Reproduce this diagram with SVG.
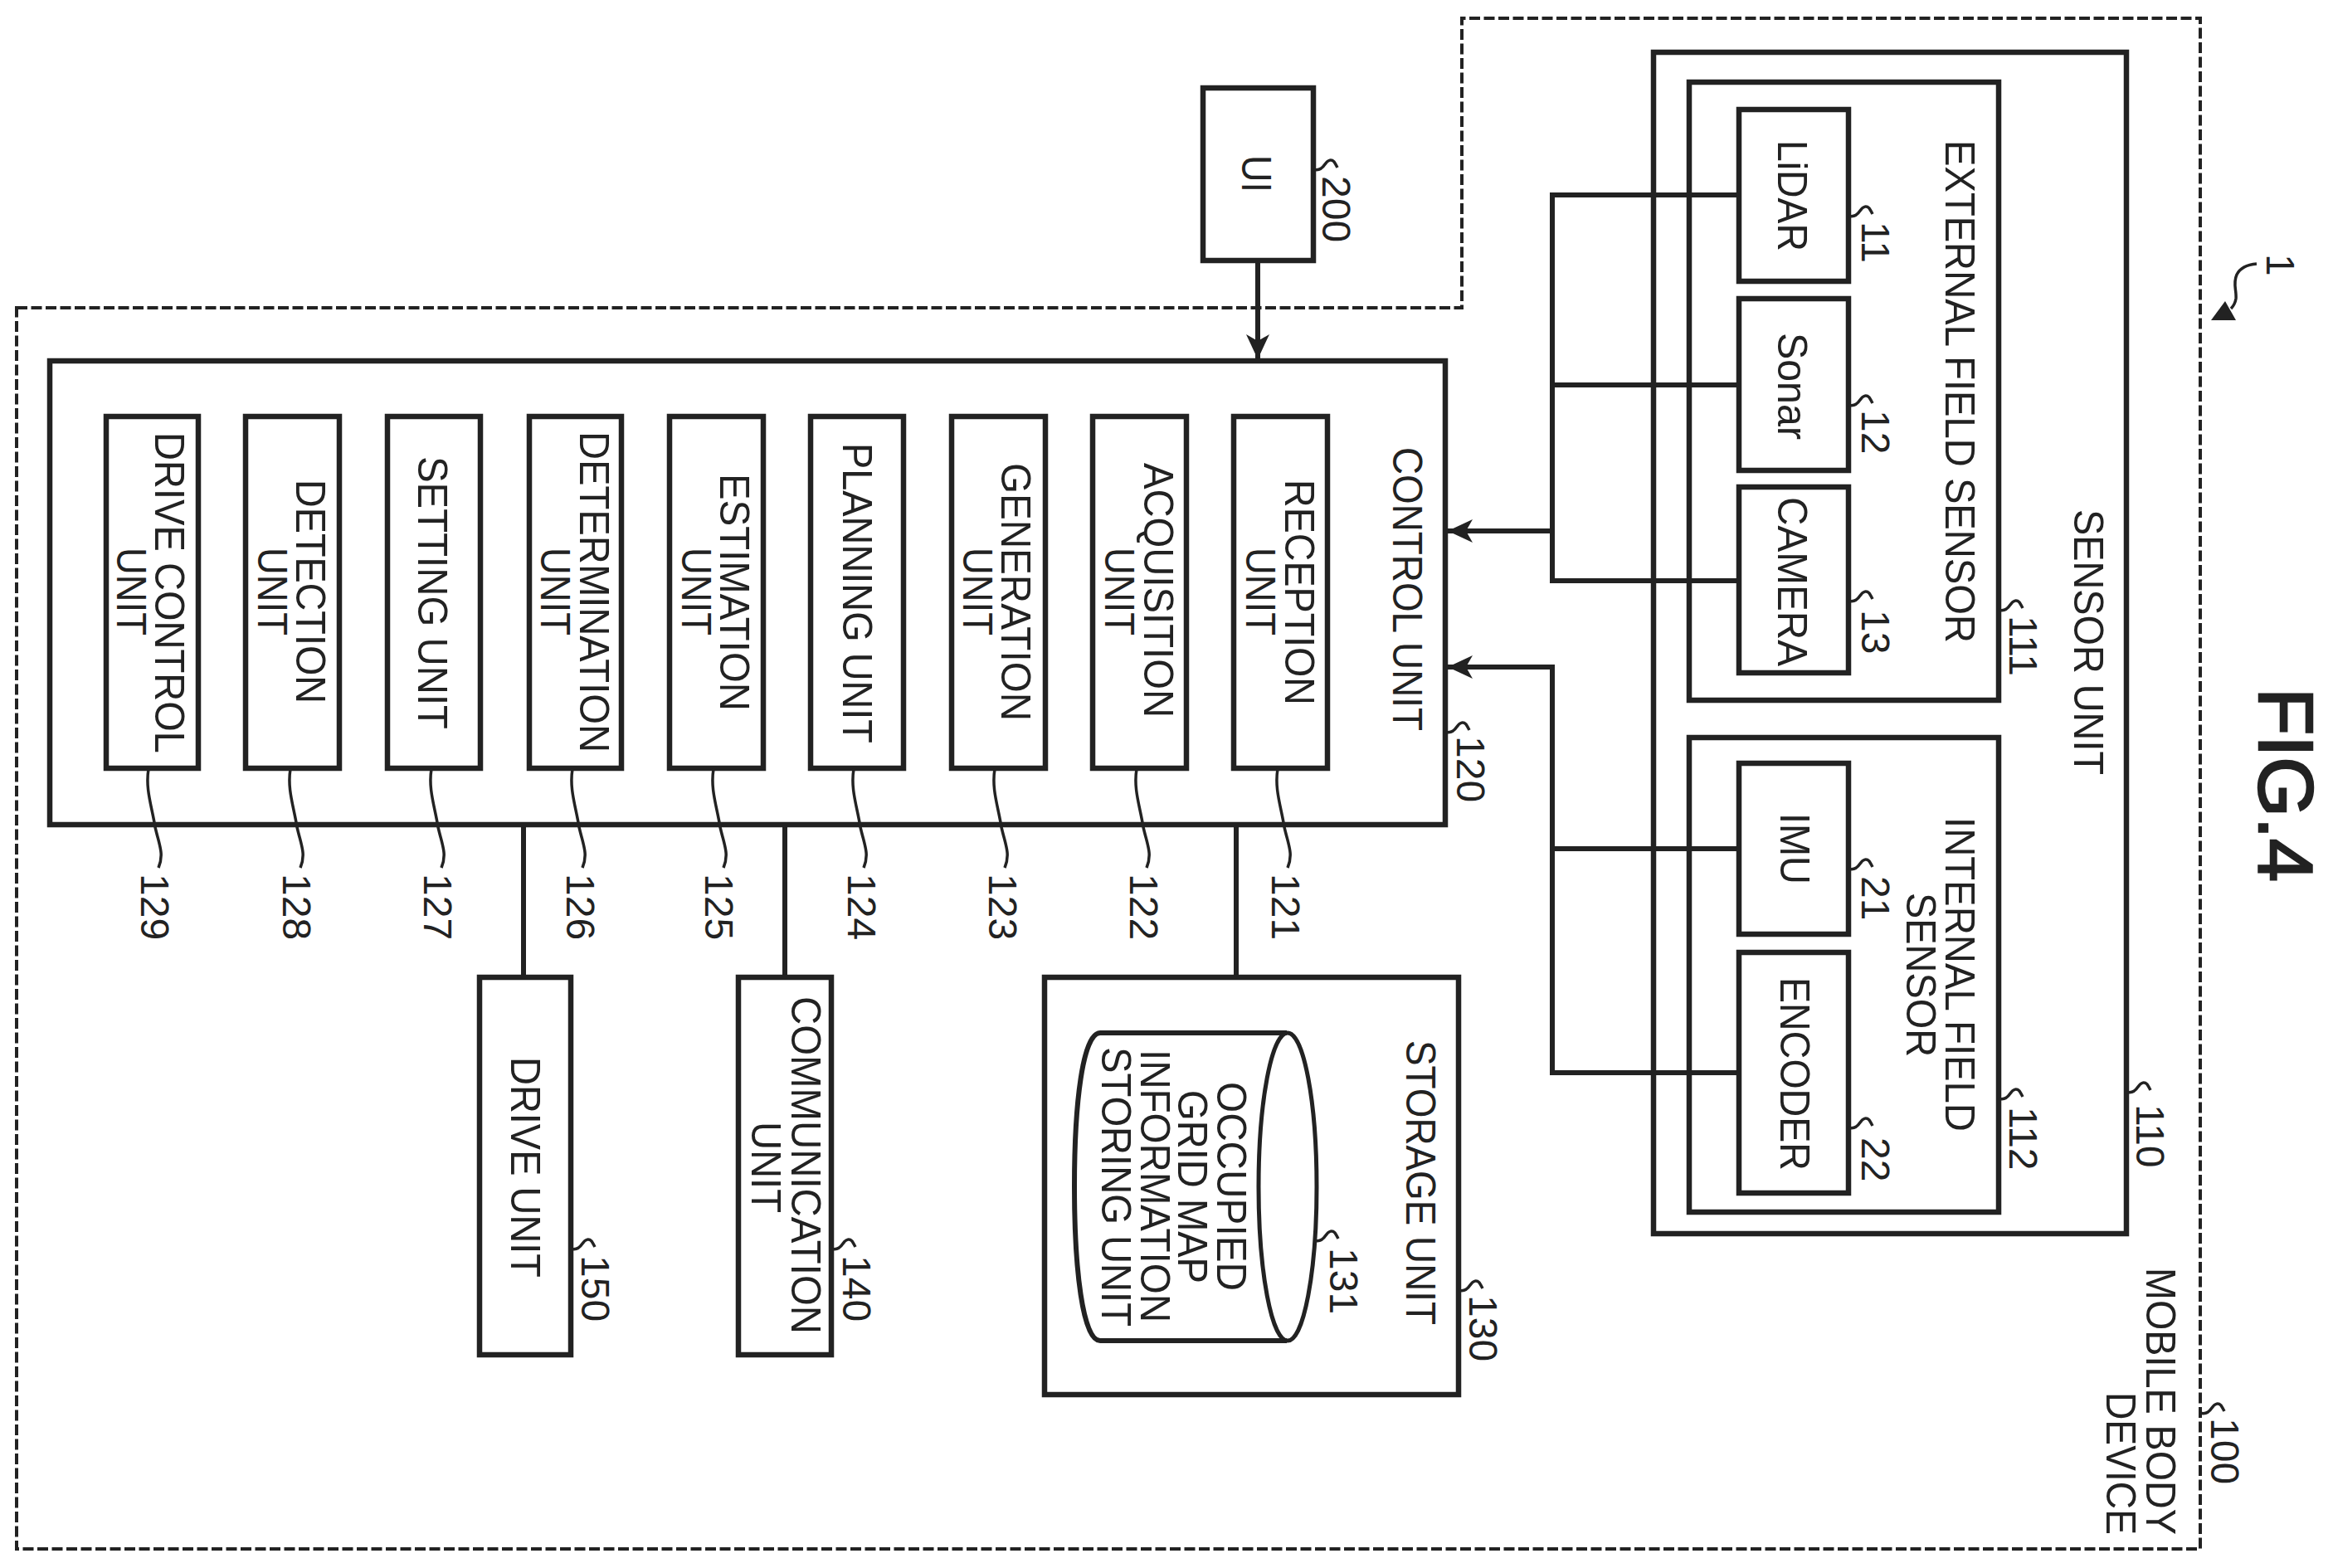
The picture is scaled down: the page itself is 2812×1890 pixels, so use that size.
<svg xmlns="http://www.w3.org/2000/svg" width="2812" height="1890" viewBox="0 0 2812 1890">
<style>
text{font-family:"Liberation Sans",Arial,sans-serif;font-size:50px;fill:#222}
.n{font-size:48px}
.fig{font-size:92px;stroke:#222;stroke-width:2.5}
.b{fill:none;stroke:#222;stroke-width:6.5}
.c{fill:none;stroke:#222;stroke-width:6}
.thin{fill:none;stroke:#222;stroke-width:3.5}
.dash{fill:none;stroke:#222;stroke-width:4;stroke-dasharray:13 4.5}
</style>
<defs>
<marker id="ah" markerUnits="userSpaceOnUse" viewBox="0 0 30 30" refX="30" refY="15" markerWidth="30" markerHeight="30" orient="auto"><path d="M0,1 L30,15 L0,29 L8,15 Z" fill="#222"/></marker>
<path id="lead" class="thin" d="M0,0 C-4,24 4,45 8,70 C13,92 19,102 12,119"/>
<path id="sq" class="thin" d="M0,11 C6,13 10,11 14,5 C18,-1 22,-1 25,2 C27,5 28,7 29,9"/>
</defs>
<rect width="2812" height="1890" fill="#fff"/>
<g id="connectors">
<path class="c" marker-end="url(#ah)" d="M1516,314 V433"/>
<path class="c" d="M2096,235 H1871 V700 H2096 M1871,464 H2096"/>
<path class="c" marker-end="url(#ah)" d="M1871,640 H1745"/>
<path class="c" marker-end="url(#ah)" d="M2096,1293 H1871 V804 H1745"/>
<path class="c" d="M1871,1023 H2096"/>
<path class="c" d="M1490,994 V1178 M946,994 V1178 M631,994 V1178"/>
<path class="thin" d="M2720,318 C2708,319 2700,323 2696,331 C2691,342 2696,350 2695,360 C2694,366 2692,369 2689,372"/>
<path d="M2665,386 L2682,363 L2695,386 Z" fill="#222"/>
</g>
<g id="mobile-body-device">
<path class="dash" d="M20,371 H1762 V22 H2652 V1867 H20 Z"/>
<text transform="translate(2587,1528) rotate(90)" textLength="322" lengthAdjust="spacingAndGlyphs">MOBILE BODY</text>
<text transform="translate(2539,1678) rotate(90)" textLength="172" lengthAdjust="spacingAndGlyphs">DEVICE</text>
<use href="#sq" transform="translate(2652,1692)"/>
<text class="n" transform="translate(2665,1709) rotate(90)">100</text>
</g>
<g id="ref-1"><text class="n" transform="translate(2732,306) rotate(90)">1</text></g>
<g id="fig-label"><text class="fig" transform="translate(2723,829) rotate(90)" textLength="234" lengthAdjust="spacingAndGlyphs">FIG.4</text></g>
<g id="ui">
<rect class="b" x="1450" y="106" width="133" height="208"/>
<text transform="translate(1497,187) rotate(90)" textLength="45" lengthAdjust="spacingAndGlyphs">UI</text>
<use href="#sq" transform="translate(1583,193)"/>
<text class="n" transform="translate(1594,212) rotate(90)">200</text>
</g>
<g id="sensor-unit">
<rect class="b" x="1993" y="63" width="570" height="1424"/>
<text transform="translate(2500,614) rotate(90)" textLength="320" lengthAdjust="spacingAndGlyphs">SENSOR UNIT</text>
<use href="#sq" transform="translate(2563,1305)"/>
<text class="n" transform="translate(2575,1331) rotate(90)">110</text>
</g>
<g id="external-field-sensor">
<rect class="b" x="2036" y="99" width="373" height="745"/>
<text transform="translate(2345,169) rotate(90)" textLength="606" lengthAdjust="spacingAndGlyphs">EXTERNAL FIELD SENSOR</text>
<use href="#sq" transform="translate(2409,724)"/>
<text class="n" transform="translate(2422,742) rotate(90)">111</text>
</g>
<g id="lidar">
<rect class="b" x="2096" y="132" width="132" height="207"/>
<text transform="translate(2143,169) rotate(90)" textLength="134" lengthAdjust="spacingAndGlyphs">LiDAR</text>
<use href="#sq" transform="translate(2228,249)"/>
<text class="n" transform="translate(2244,267) rotate(90)">11</text>
</g>
<g id="sonar">
<rect class="b" x="2096" y="360" width="132" height="207"/>
<text transform="translate(2143,401) rotate(90)" textLength="129" lengthAdjust="spacingAndGlyphs">Sonar</text>
<use href="#sq" transform="translate(2228,477)"/>
<text class="n" transform="translate(2244,494) rotate(90)">12</text>
</g>
<g id="camera">
<rect class="b" x="2096" y="587" width="132" height="224"/>
<text transform="translate(2143,599) rotate(90)" textLength="204" lengthAdjust="spacingAndGlyphs">CAMERA</text>
<use href="#sq" transform="translate(2228,713)"/>
<text class="n" transform="translate(2244,735) rotate(90)">13</text>
</g>
<g id="internal-field-sensor">
<rect class="b" x="2036" y="889" width="373" height="572"/>
<text transform="translate(2345,985) rotate(90)" textLength="379" lengthAdjust="spacingAndGlyphs">INTERNAL FIELD</text>
<text transform="translate(2298,1076) rotate(90)" textLength="198" lengthAdjust="spacingAndGlyphs">SENSOR</text>
<use href="#sq" transform="translate(2409,1313)"/>
<text class="n" transform="translate(2422,1334) rotate(90)">112</text>
</g>
<g id="imu">
<rect class="b" x="2096" y="920" width="132" height="206"/>
<text transform="translate(2146,980) rotate(90)" textLength="86" lengthAdjust="spacingAndGlyphs">IMU</text>
<use href="#sq" transform="translate(2228,1036)"/>
<text class="n" transform="translate(2244,1056) rotate(90)">21</text>
</g>
<g id="encoder">
<rect class="b" x="2096" y="1148" width="132" height="290"/>
<text transform="translate(2146,1178) rotate(90)" textLength="233" lengthAdjust="spacingAndGlyphs">ENCODER</text>
<use href="#sq" transform="translate(2228,1348)"/>
<text class="n" transform="translate(2244,1371) rotate(90)">22</text>
</g>
<g id="control-unit">
<rect class="b" x="60" y="435" width="1682" height="559"/>
<text transform="translate(1679,539) rotate(90)" textLength="342" lengthAdjust="spacingAndGlyphs">CONTROL UNIT</text>
<use href="#sq" transform="translate(1742,871)"/>
<text class="n" transform="translate(1756,887) rotate(90)">120</text>
</g>
<g id="reception-unit">
<rect class="b" x="1487" y="502" width="113" height="424"/>
<text transform="translate(1549,578) rotate(90)" textLength="272" lengthAdjust="spacingAndGlyphs">RECEPTION</text>
<text transform="translate(1502,660) rotate(90)" textLength="106" lengthAdjust="spacingAndGlyphs">UNIT</text>
<use href="#lead" transform="translate(1540,927)"/>
<text class="n" transform="translate(1533,1053) rotate(90)">121</text>
</g>
<g id="acquisition-unit">
<rect class="b" x="1317" y="502" width="113" height="424"/>
<text transform="translate(1379,558) rotate(90)" textLength="307" lengthAdjust="spacingAndGlyphs">ACQUISITION</text>
<text transform="translate(1332,660) rotate(90)" textLength="106" lengthAdjust="spacingAndGlyphs">UNIT</text>
<use href="#lead" transform="translate(1370,927)"/>
<text class="n" transform="translate(1362,1053) rotate(90)">122</text>
</g>
<g id="generation-unit">
<rect class="b" x="1147" y="502" width="113" height="424"/>
<text transform="translate(1207,558) rotate(90)" textLength="311" lengthAdjust="spacingAndGlyphs">GENERATION</text>
<text transform="translate(1161,660) rotate(90)" textLength="106" lengthAdjust="spacingAndGlyphs">UNIT</text>
<use href="#lead" transform="translate(1199,927)"/>
<text class="n" transform="translate(1192,1053) rotate(90)">123</text>
</g>
<g id="planning-unit">
<rect class="b" x="977" y="502" width="112" height="424"/>
<text transform="translate(1016,534) rotate(90)" textLength="362" lengthAdjust="spacingAndGlyphs">PLANNING UNIT</text>
<use href="#lead" transform="translate(1029,927)"/>
<text class="n" transform="translate(1022,1053) rotate(90)">124</text>
</g>
<g id="estimation-unit">
<rect class="b" x="807" y="502" width="113" height="424"/>
<text transform="translate(868,571) rotate(90)" textLength="286" lengthAdjust="spacingAndGlyphs">ESTIMATION</text>
<text transform="translate(822,660) rotate(90)" textLength="106" lengthAdjust="spacingAndGlyphs">UNIT</text>
<use href="#lead" transform="translate(860,927)"/>
<text class="n" transform="translate(850,1053) rotate(90)">125</text>
</g>
<g id="determination-unit">
<rect class="b" x="638" y="502" width="111" height="424"/>
<text transform="translate(699,520) rotate(90)" textLength="387" lengthAdjust="spacingAndGlyphs">DETERMINATION</text>
<text transform="translate(652,660) rotate(90)" textLength="106" lengthAdjust="spacingAndGlyphs">UNIT</text>
<use href="#lead" transform="translate(690,927)"/>
<text class="n" transform="translate(683,1053) rotate(90)">126</text>
</g>
<g id="setting-unit">
<rect class="b" x="467" y="502" width="112" height="424"/>
<text transform="translate(504,550) rotate(90)" textLength="329" lengthAdjust="spacingAndGlyphs">SETTING UNIT</text>
<use href="#lead" transform="translate(520,927)"/>
<text class="n" transform="translate(511,1053) rotate(90)">127</text>
</g>
<g id="detection-unit">
<rect class="b" x="296" y="502" width="113" height="424"/>
<text transform="translate(357,578) rotate(90)" textLength="270" lengthAdjust="spacingAndGlyphs">DETECTION</text>
<text transform="translate(311,660) rotate(90)" textLength="106" lengthAdjust="spacingAndGlyphs">UNIT</text>
<use href="#lead" transform="translate(350,927)"/>
<text class="n" transform="translate(341,1053) rotate(90)">128</text>
</g>
<g id="drive-control-unit">
<rect class="b" x="128" y="502" width="111" height="424"/>
<text transform="translate(187,521) rotate(90)" textLength="387" lengthAdjust="spacingAndGlyphs">DRIVE CONTROL</text>
<text transform="translate(141,660) rotate(90)" textLength="106" lengthAdjust="spacingAndGlyphs">UNIT</text>
<use href="#lead" transform="translate(179,927)"/>
<text class="n" transform="translate(170,1053) rotate(90)">129</text>
</g>
<g id="storage-unit">
<rect class="b" x="1259" y="1178" width="499" height="503"/>
<text transform="translate(1695,1254) rotate(90)" textLength="343" lengthAdjust="spacingAndGlyphs">STORAGE UNIT</text>
<use href="#sq" transform="translate(1758,1544)"/>
<text class="n" transform="translate(1771,1561) rotate(90)">130</text>
</g>
<g id="occupied-grid-map">
<path class="c" d="M1551,1245 H1326 C1305,1245 1295,1330 1295,1430 C1295,1530 1305,1616 1326,1616 H1551"/>
<ellipse class="thin" style="stroke-width:5" cx="1552" cy="1430.5" rx="35" ry="185.5"/>
<text transform="translate(1467,1304) rotate(90)" textLength="252" lengthAdjust="spacingAndGlyphs">OCCUPIED</text>
<text transform="translate(1420,1314) rotate(90)" textLength="233" lengthAdjust="spacingAndGlyphs">GRID MAP</text>
<text transform="translate(1375,1265) rotate(90)" textLength="329" lengthAdjust="spacingAndGlyphs">INFORMATION</text>
<text transform="translate(1328,1262) rotate(90)" textLength="337" lengthAdjust="spacingAndGlyphs">STORING UNIT</text>
<use href="#sq" transform="translate(1584,1484)"/>
<text class="n" transform="translate(1603,1504) rotate(90)">131</text>
</g>
<g id="communication-unit">
<rect class="b" x="890" y="1178" width="112" height="455"/>
<text transform="translate(954,1201) rotate(90)" textLength="407" lengthAdjust="spacingAndGlyphs">COMMUNICATION</text>
<text transform="translate(906,1352) rotate(90)" textLength="110" lengthAdjust="spacingAndGlyphs">UNIT</text>
<use href="#sq" transform="translate(1002,1494)"/>
<text class="n" transform="translate(1016,1513) rotate(90)">140</text>
</g>
<g id="drive-unit">
<rect class="b" x="578" y="1178" width="110" height="455"/>
<text transform="translate(616,1274) rotate(90)" textLength="266" lengthAdjust="spacingAndGlyphs">DRIVE UNIT</text>
<use href="#sq" transform="translate(688,1494)"/>
<text class="n" transform="translate(701,1513) rotate(90)">150</text>
</g>
</svg>
